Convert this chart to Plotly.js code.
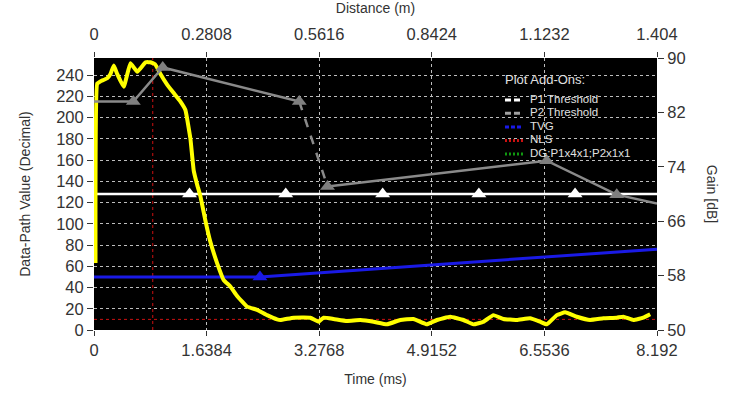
<!DOCTYPE html>
<html>
<head>
<meta charset="utf-8">
<script src="https://cdn.plot.ly/plotly-3.0.1.min.js"></script>
<style>html,body{margin:0;padding:0;background:#fff;}#chart{width:742px;height:396px;}</style>
</head>
<body>
<div id="chart"></div>
<script>
// ---- Data ----
const timeTicks = [0, 1.6384, 3.2768, 4.9152, 6.5536, 8.192];
const timeTickText = ['0', '1.6384', '3.2768', '4.9152', '6.5536', '8.192'];
const distTicks = [0, 0.2808, 0.5616, 0.8424, 1.1232, 1.404];
const distTickText = ['0', '0.2808', '0.5616', '0.8424', '1.1232', '1.404'];
const valueTicks = [0, 20, 40, 60, 80, 100, 120, 140, 160, 180, 200, 220, 240];
const gainTicks = [50, 58, 66, 74, 82, 90];

// Data-path value (yellow)
const sigTime = [0.022, 0.047, 0.094, 0.192, 0.24, 0.288, 0.337, 0.433, 0.53, 0.63, 0.75, 0.82, 0.89, 0.967,
  1.064, 1.16, 1.258, 1.33, 1.403, 1.451, 1.5, 1.548, 1.621, 1.693, 1.791, 1.887, 1.984, 2.082, 2.227,
  2.373, 2.518, 2.663, 2.711, 2.905, 3.147, 3.268, 3.341, 3.486, 3.681, 3.874, 4.068, 4.263, 4.456, 4.649,
  4.844, 4.989, 5.183, 5.376, 5.522, 5.667, 5.812, 5.958, 6.152, 6.346, 6.491, 6.589, 6.734, 6.855, 7.025,
  7.218, 7.412, 7.606, 7.702, 7.848, 7.993, 8.093];
const sigValue = [63, 232, 234, 237, 241, 249, 241, 229, 251, 243, 252, 252, 250, 241,
  231, 223, 215, 207, 180, 150, 137, 126, 103, 83, 63, 47, 41, 32, 22,
  19, 14, 10, 9.4, 11.6, 11.6, 7.8, 11.6, 10.4, 8.5, 9.4, 7.8, 5.3, 9.4, 10.4,
  5.3, 9.4, 12.5, 9.4, 5.3, 7.8, 14, 10.4, 9.4, 11, 7.8, 5.3, 14, 16.6, 12.5,
  9.4, 11, 11.6, 12.5, 9.4, 11.6, 14.8];

// P1 threshold (white)
const p1LineTime = [0, 8.192];
const p1LineValue = [128, 128];
const p1MarkTime = [1.39, 2.79, 4.2, 5.6, 7.0];
const p1MarkValue = [128, 128, 128, 128, 128];

// Gain curve (gray, right axis)
const gainTimeA = [0, 0.572, 1.0, 2.987];
const gainValA = [83.6, 83.6, 88.6, 83.6];
const gainTimeB = [2.987, 3.398];
const gainValB = [83.6, 71.1];
const gainTimeC = [3.398, 6.587, 7.606, 8.192];
const gainValC = [71.1, 74.9, 69.9, 68.6];
const gainMarkTime = [0.572, 1.0, 2.987, 3.398, 6.587, 7.606];
const gainMarkVal = [83.6, 88.6, 83.6, 71.1, 74.9, 69.9];

// TVG (blue)
const tvgTime = [0, 2.415, 8.192];
const tvgValue = [50, 50, 76];
const tvgMarkTime = [2.415];
const tvgMarkValue = [50];

// NLS (red dotted)
const nlsTime = [0, 8.192, null, 0.855, 0.855];
const nlsValue = [10, 10, null, 0, 256];

// Legend ("Plot Add-Ons")
const legendTitle = 'Plot Add-Ons:';
const legendNames = ['P1 Threshold', 'P2 Threshold', 'TVG', 'NLS', 'DG:P1x4x1;P2x1x1'];
const legendColors = ['#ffffff', '#a0a0a0', '#1a1ae6', '#cc1111', '#119911'];
const legendDash = ['6px,3px', '6px,3px', '4px,2px', '2px,2px', '2px,2px'];

const FONT = 'Liberation Sans, Arial, sans-serif';
const traces = [];

// helper so the top (distance) axis is drawn
traces.push({x: distTicks, y: distTicks.map(() => null), xaxis: 'x2', mode: 'lines',
  showlegend: false, hoverinfo: 'skip'});

traces.push({x: nlsTime, y: nlsValue, mode: 'lines', line: {color: '#cc1111', width: 1, dash: 'dot'},
  showlegend: false, hoverinfo: 'skip', connectgaps: false});
traces.push({x: p1LineTime, y: p1LineValue, mode: 'lines', line: {color: '#ffffff', width: 2.5},
  showlegend: false, hoverinfo: 'skip'});
traces.push({x: p1MarkTime, y: p1MarkValue, mode: 'markers',
  marker: {symbol: 'triangle-up', size: 13, color: '#ffffff', line: {width: 0}}, showlegend: false});
traces.push({x: tvgTime, y: tvgValue, mode: 'lines', line: {color: '#1a1ae6', width: 3},
  showlegend: false});
traces.push({x: tvgMarkTime, y: tvgMarkValue, mode: 'markers',
  marker: {symbol: 'triangle-up', size: 13, color: '#1a1ae6', line: {width: 0}}, showlegend: false});
traces.push({x: gainTimeA, y: gainValA, yaxis: 'y2', mode: 'lines', line: {color: '#8a8a8a', width: 2.5},
  showlegend: false, hoverinfo: 'skip'});
traces.push({x: gainTimeB, y: gainValB, yaxis: 'y2', mode: 'lines', line: {color: '#8a8a8a', width: 2.5, dash: 'dash'},
  showlegend: false, hoverinfo: 'skip'});
traces.push({x: gainTimeC, y: gainValC, yaxis: 'y2', mode: 'lines', line: {color: '#8a8a8a', width: 2.5},
  showlegend: false, hoverinfo: 'skip'});
traces.push({x: gainMarkTime, y: gainMarkVal, yaxis: 'y2', mode: 'markers',
  marker: {symbol: 'triangle-up', size: 13, color: '#7f7f7f', line: {width: 0}}, showlegend: false});
traces.push({x: sigTime, y: sigValue, mode: 'lines', line: {color: '#ffff00', width: 4, shape: 'spline', smoothing: 0.3},
  showlegend: false});

// manual legend in paper coordinates
const annotations = [];
const shapes = [];
const lgLeft = 0.730, lgSampleRight = 0.762, lgTextLeft = 0.770;
const lgTitleY = 0.922;
const lgRowY = [0.850, 0.801, 0.750, 0.701, 0.651];
annotations.push({text: legendTitle, xref: 'paper', yref: 'paper', x: lgLeft - 0.004, y: lgTitleY,
  xanchor: 'left', yanchor: 'middle', showarrow: false,
  font: {family: FONT, size: 13, color: '#e0e0e0'}});
for (let i = 0; i < legendNames.length; i++) {
  annotations.push({text: legendNames[i], xref: 'paper', yref: 'paper', x: lgTextLeft, y: lgRowY[i],
    xanchor: 'left', yanchor: 'middle', showarrow: false,
    font: {family: FONT, size: 11.5, color: '#e0e0e0'}});
  shapes.push({type: 'line', xref: 'paper', yref: 'paper', x0: lgLeft, x1: lgSampleRight,
    y0: lgRowY[i] - 0.004, y1: lgRowY[i] - 0.004,
    line: {color: legendColors[i], width: 3, dash: legendDash[i]}});
}
annotations.push({
  text: 'Gain [dB]', xref: 'paper', yref: 'paper', x: 1.098, y: 0.5,
  showarrow: false, textangle: 90, font: {family: FONT, size: 14, color: '#333'},
  xanchor: 'center', yanchor: 'middle'
});

const tickFont = {family: FONT, size: 16.5, color: '#333'};
const titleFont = {family: FONT, size: 14, color: '#333'};

const layout = {
  width: 742, height: 396,
  margin: {l: 94, r: 85, t: 58, b: 66},
  paper_bgcolor: '#ffffff',
  plot_bgcolor: '#000000',
  showlegend: false,
  xaxis: {
    range: [0, 8.192], tickvals: timeTicks, ticktext: timeTickText,
    ticks: 'outside', ticklen: 5, tickcolor: '#333', tickfont: tickFont,
    showgrid: true, gridcolor: '#bdbdbd', griddash: 'dot', gridwidth: 1,
    zeroline: false, showline: false,
    title: {text: 'Time (ms)', font: titleFont, standoff: 16}
  },
  xaxis2: {
    overlaying: 'x', side: 'top', anchor: 'y',
    range: [0, 1.404], tickvals: distTicks, ticktext: distTickText,
    ticks: 'outside', ticklen: 5, tickcolor: '#333', tickfont: tickFont,
    ticklabelstandoff: 5,
    showgrid: false, zeroline: false, showline: false,
    title: {text: 'Distance (m)', font: titleFont, standoff: 8}
  },
  yaxis: {
    range: [0, 256], tickvals: valueTicks,
    ticks: 'outside', ticklen: 6, tickcolor: '#333', tickfont: tickFont,
    showgrid: true, gridcolor: '#bdbdbd', griddash: 'dot', gridwidth: 1,
    zeroline: false, showline: false,
    title: {text: 'Data-Path Value (Decimal)', font: titleFont, standoff: 22}
  },
  yaxis2: {
    overlaying: 'y', side: 'right', anchor: 'x',
    range: [50, 90], tickvals: gainTicks,
    ticks: 'outside', ticklen: 6, tickcolor: '#333', tickfont: tickFont,
    showgrid: false, zeroline: false, showline: false
  },
  annotations: annotations,
  shapes: shapes
};

Plotly.newPlot('chart', traces, layout, {displayModeBar: false, staticPlot: true});
</script>
</body>
</html>
